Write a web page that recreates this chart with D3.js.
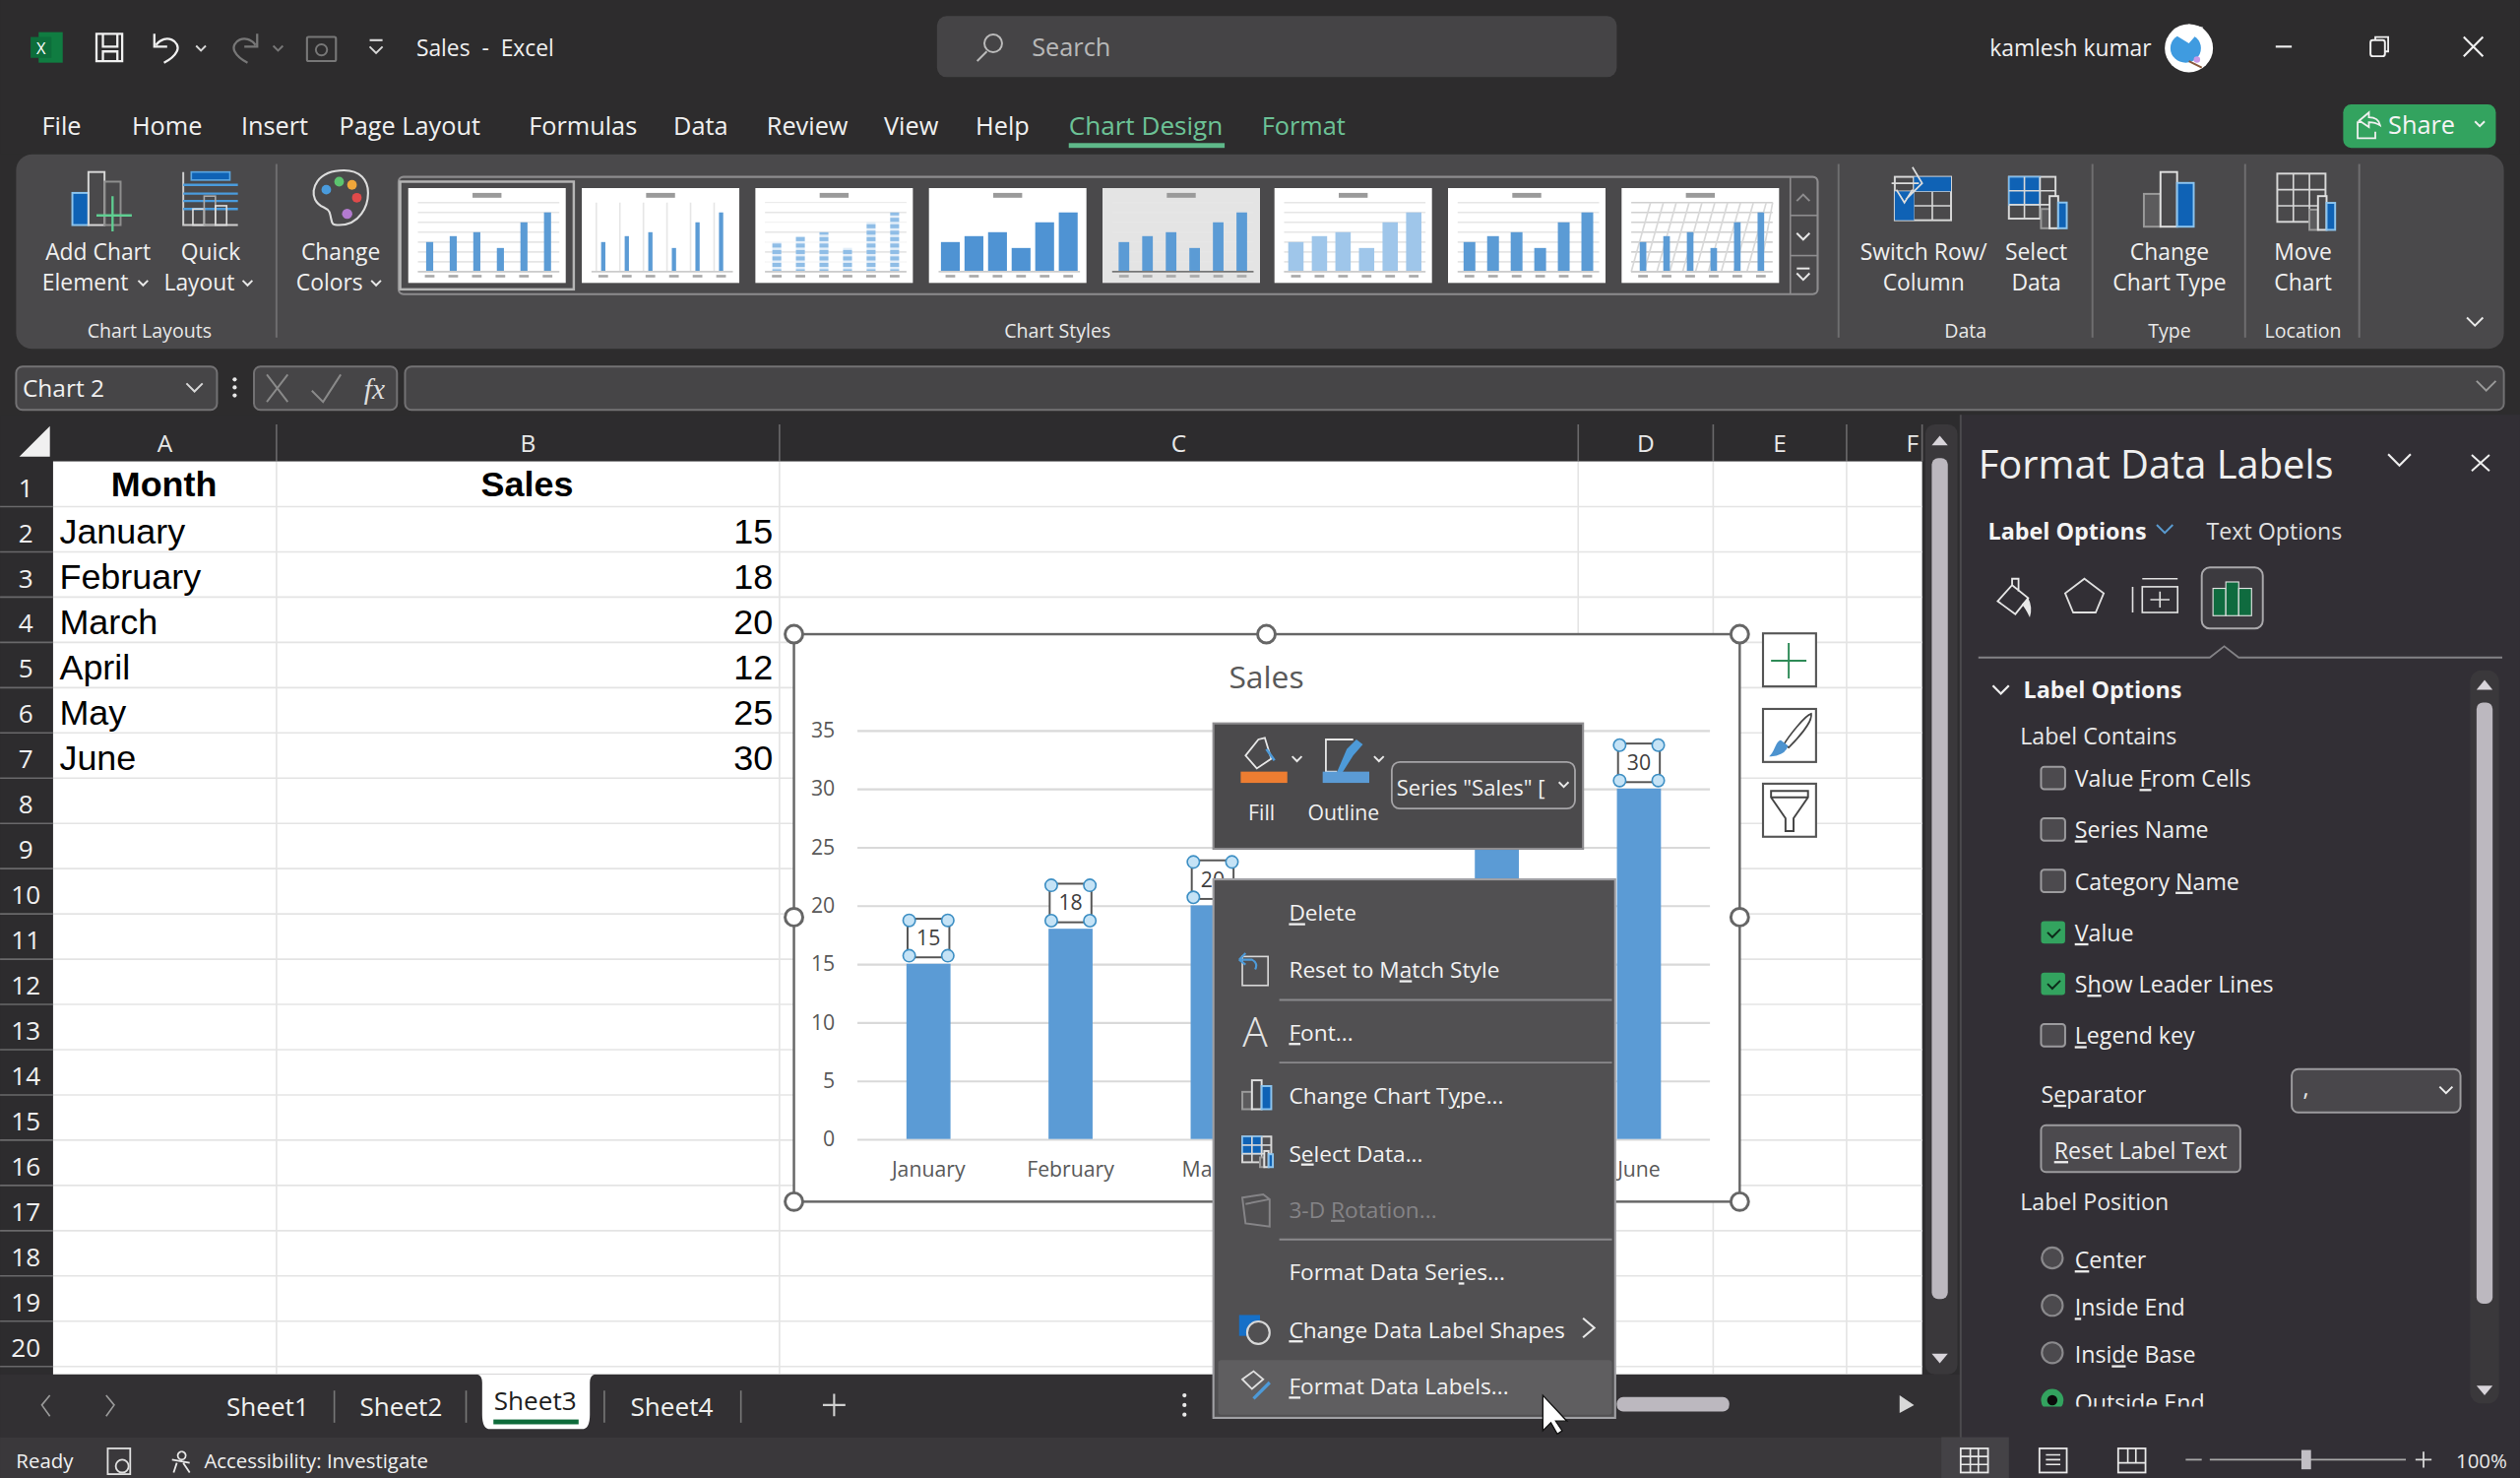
<!DOCTYPE html>
<html lang="en">
	<head>
		<meta charset="utf-8">
		<title>Sales - Excel</title>
		<script type="text/javascript" src="https://d3js.org/d3.v7.min.js"></script>
		<style type="text/css">
			body{
				margin: 0;
				background: #2d2c2d;
			}
			svg{
				display: block;
			}
		</style>
	</head>
	<body>
		<script type="text/javascript">

			//Chart data, read from the sheet
			var months = ["January", "February", "March", "April", "May", "June"];
			var sales = [15, 18, 20, 12, 25, 30];
			var yTicks = [0, 5, 10, 15, 20, 25, 30, 35];

			//Sheet headers
			var columnNames = ["A", "B", "C", "D", "E", "F"];
			var sheetNames = ["Sheet1", "Sheet2", "Sheet3", "Sheet4"];

			//Panel and menu texts, & marks the underlined letter
			var labelContains = ["Value &From Cells", "&Series Name", "Category &Name", "&Value", "S&how Leader Lines", "&Legend key"];
			var labelChecked = [false, false, false, true, true, false];
			var labelPositions = ["&Center", "&Inside End", "Insi&de Base", "&Outside End"];

			var ui = "'Open Sans', sans-serif";

			//Everything is measured on a 1568 wide copy of the screenshot
			var svg = d3.select("body")
						.append("svg")
						.attr("width", 2560)
						.attr("height", 1501)
						.attr("viewBox", "0 0 1568 919.4");

			var root = svg;

			function box(x, y, w, h, fill, stroke, r, sw) {
				return root.append("rect")
					.attr("x", x).attr("y", y)
					.attr("width", w).attr("height", h)
					.attr("rx", r || 0)
					.attr("fill", fill || "none")
					.attr("stroke", stroke || "none")
					.attr("stroke-width", sw || 1);
			}

			function line(x1, y1, x2, y2, color, sw) {
				return root.append("line")
					.attr("x1", x1).attr("y1", y1)
					.attr("x2", x2).attr("y2", y2)
					.attr("stroke", color)
					.attr("stroke-width", sw || 1);
			}

			function path(d, stroke, sw, fill) {
				return root.append("path")
					.attr("d", d)
					.attr("fill", fill || "none")
					.attr("stroke", stroke || "none")
					.attr("stroke-width", sw || 1);
			}

			function dot(x, y, r, fill, stroke, sw) {
				return root.append("circle")
					.attr("cx", x).attr("cy", y).attr("r", r)
					.attr("fill", fill || "none")
					.attr("stroke", stroke || "none")
					.attr("stroke-width", sw || 1);
			}

			function label(str, x, y, size, fill, anchor, weight, family) {
				var t = root.append("text")
					.attr("x", x).attr("y", y)
					.attr("font-size", size)
					.attr("font-family", family || ui)
					.attr("font-weight", weight || 400)
					.attr("fill", fill || "#f0f0f0")
					.attr("text-anchor", anchor || "start");
				//split on & so the access key letter gets its underline
				str.split("&").forEach(function(part, i) {
					if (i == 0) {
						t.append("tspan").text(part);
					} else {
						t.append("tspan").style("text-decoration", "underline").text(part[0]);
						t.append("tspan").text(part.slice(1));
					}
				});
				return t;
			}

			function chev(x, y, s, color, sw) {
				return path("M" + (x - s) + "," + (y - s / 2) + "L" + x + "," + (y + s / 2) + "L" + (x + s) + "," + (y - s / 2), color || "#e8e8e8", sw || 1.2);
			}

			//three bars icon: grey, white outline, blue
			function barsIcon(x, y, w, h) {
				var u = w / 3;
				box(x, y + h * 0.4, u, h * 0.6, "#5c5b5d", "#9a9a9a", 0, 1.2);
				box(x + u, y, u, h, "#4a494b", "#e0e0e0", 0, 1.2);
				box(x + u * 2, y + h * 0.2, u, h * 0.8, "#0f62b5", "#8cc4ee", 0, 1.2);
			}

			function tableIcon(x, y, w, h, cols, rows, blueCols, blueRows) {
				box(x, y, w, h, "none", "#d8d8d8", 0, 1.2);
				box(x, y, w * blueCols / cols, h * blueRows / rows, "#0f62b5", "#7fbcec", 0, 1);
				for (var i = 1; i < cols; i++) line(x + w * i / cols, y, x + w * i / cols, y + h, "#d8d8d8", 1);
				for (var j = 1; j < rows; j++) line(x, y + h * j / rows, x + w, y + h * j / rows, "#d8d8d8", 1);
			}

			/* ---------- title bar ---------- */
			box(0, 0, 1568, 96, "#2d2c2d");
			box(24, 20, 15, 19, "#107c41");
			box(19, 23, 13, 13, "#0d6e3b");
			label("X", 25.5, 33.5, 10, "#ffffff", "middle", 400);
			path("M60,21H76V38H60Z M64,21V29H73V21 M64,38V32H73V38", "#f0f0f0", 1.4);
			path("M96,21V29H104 M97,28C103,20 113,26 110,32C108,36 104,38 102,39", "#f0f0f0", 1.4);
			chev(125, 30, 3, "#d8d8d8");
			path("M160,21V29H152 M159,28C153,20 143,26 146,32C148,36 152,38 154,39", "#777", 1.4);
			chev(173, 30, 3, "#777");
			box(191, 23, 18, 15, "none", "#777", 1, 1.3);
			dot(200, 31, 3.5, "none", "#777", 1.2);
			line(230, 25, 238, 25, "#d8d8d8", 1.3);
			chev(234, 31, 4, "#d8d8d8");
			label("Sales\u00a0\u00a0-\u00a0\u00a0Excel", 259, 35, 14, "#f0f0f0");

			box(583, 10, 423, 38, "#454446", "none", 6);
			dot(618, 27, 5.5, "none", "#bbbbbb", 1.2);
			line(614, 32, 608, 38, "#bbbbbb", 1.2);
			label("Search", 642, 35, 15.5, "#b8b8b8");

			label("kamlesh kumar", 1238, 35, 14, "#f0f0f0");
			dot(1362, 30, 15, "#ffffff");
			root.append("ellipse").attr("cx", 1360).attr("cy", 30).attr("rx", 9.5).attr("ry", 9).attr("fill", "#3f9be0");
			path("M1354,22L1362,27L1369,19L1371,17L1362,15Z", "none", 0, "#ffffff");
			path("M1362,38L1370,42", "#8a5a3c", 1.2);
			dot(1367, 37, 2, "#c99ae8");
			line(1416, 29, 1426, 29, "#f0f0f0", 1.3);
			box(1475, 25, 9, 10, "none", "#f0f0f0", 1.5, 1.2);
			path("M1478,25V23H1486V32H1484", "#f0f0f0", 1.1);
			path("M1533,23L1545,35M1545,23L1533,35", "#f0f0f0", 1.3);

			/* ---------- ribbon tabs ---------- */
			[["File", 26], ["Home", 82], ["Insert", 150], ["Page Layout", 211], ["Formulas", 329], ["Data", 419], ["Review", 477], ["View", 550], ["Help", 607]].forEach(function(d) {
				label(d[0], d[1], 84, 15.5, "#f0f0f0");
			});
			label("Chart Design", 665, 84, 16, "#6cc296");
			box(665, 89, 97, 3, "#5fb98a");
			label("Format", 785, 84, 15.5, "#6cc296");

			box(1458, 65, 95, 27, "#33a35f", "none", 5);
			path("M1468,75L1474,70V73Q1480,73 1481,78Q1478,76 1474,76V79Z M1470,76H1467V86H1478V82", "#f0f0f0", 1.1);
			label("Share", 1486, 83, 15.5, "#f4f4f4");
			chev(1543, 77, 3, "#f0f0f0");

			/* ---------- ribbon ---------- */
			box(10, 96, 1548, 121, "#4a494b", "none", 10);
			[172, 1144, 1302, 1397, 1468].forEach(function(x) {
				line(x, 102, x, 210, "#6f6e70", 1.2);
			});

			//Add Chart Element
			box(45, 120, 10, 20, "#0f62b5", "#8cc4ee", 0, 1.2);
			box(55, 107, 10, 33, "none", "#d8d8d8", 0, 1.2);
			box(65, 113, 10, 27, "none", "#8f8f8f", 0, 1.2);
			path("M70,122V144M60,134H82", "#5fcf92", 1.4);
			label("Add Chart", 61, 162, 14, "#f0f0f0", "middle");
			label("Element", 53, 181, 14, "#f0f0f0", "middle");
			chev(89, 176, 3);

			//Quick Layout
			path("M114,107V140H148", "#cfcfcf", 1.2);
			box(119, 107, 24, 5, "#0f62b5", "#5aa5e0");
			[115, 120.5, 125, 130].forEach(function(y) {
				line(114, y, 148, y, "#4a9bdc", 1.4);
			});
			box(120, 130, 7, 10, "none", "#dddddd");
			box(127, 122, 7, 18, "none", "#aaaaaa");
			box(134, 128, 7, 12, "none", "#dddddd");
			label("Quick", 131, 162, 14, "#f0f0f0", "middle");
			label("Layout", 124, 181, 14, "#f0f0f0", "middle");
			chev(154, 176, 3);

			//Change Colors
			path("M214,106C197,106 193,118 196,124C199,130 203,128 205,132C207,138 205,140 211,140C224,140 229,128 229,120C229,112 224,106 214,106Z", "#dcdcdc", 1.3);
			dot(203, 118, 3, "#4a9bdc");
			dot(211, 113, 3, "#5cc46f");
			dot(219, 115, 3, "#efa63a");
			dot(222, 123, 3, "#e04a4a");
			dot(216, 133, 3.2, "#b47bd0");
			label("Change", 212, 162, 14, "#f0f0f0", "middle");
			label("Colors", 205, 181, 14, "#f0f0f0", "middle");
			chev(234, 176, 3);

			/* chart style gallery, every thumbnail is the same sales data */
			box(248, 110, 883, 73, "none", "#8d8c8e", 3, 1.3);
			box(249, 113, 108, 67, "none", "#b5b5b5", 0, 1.5);
			var thumbX = [254, 362, 470, 578, 686, 793, 901, 1009];
			var thumbBand = [0.7, 0.82, 0.62, 0.2, 0.55, 0.35, 0.5, 0.72];
			var thumbFill = ["#5b9bd5", "#5b9bd5", "#8fbde6", "#4f93d3", "#5b9bd5", "#9fc6ea", "#5b9bd5", "#5b9bd5"];
			thumbX.forEach(function(tx, t) {
				var tb = root.append("g").attr("transform", "translate(" + tx + ",117)");
				tb.append("rect").attr("width", 98).attr("height", 59).attr("fill", t == 4 ? "#e4e4e4" : "#ffffff");
				var tScaleX = d3.scaleBand().domain(months).range([6, 94]).paddingInner(thumbBand[t]).paddingOuter(thumbBand[t] / 2);
				var tScaleY = d3.scaleLinear().domain([0, 35]).range([52, 9]);
				if (t == 1) {
					//vertical grid only
					tb.selectAll(".tvgrid").data(months).enter().append("line")
						.attr("class", "tvgrid")
						.attr("x1", function(d) { return tScaleX(d) - 3; })
						.attr("x2", function(d) { return tScaleX(d) - 3; })
						.attr("y1", 9).attr("y2", 52)
						.attr("stroke", "#e6e6e6");
				} else if (t != 3) {
					tb.selectAll(".tgrid").data(yTicks).enter().append("line")
						.attr("class", "tgrid")
						.attr("x1", 6).attr("x2", 94)
						.attr("y1", function(d) { return tScaleY(d); })
						.attr("y2", function(d) { return tScaleY(d); })
						.attr("stroke", t == 7 ? "#d0d0d0" : "#e6e6e6");
				}
				if (t == 7) {
					//hatched background
					tb.selectAll(".thatch").data(d3.range(6, 94, 8)).enter().append("line")
						.attr("class", "thatch")
						.attr("x1", function(d) { return d; })
						.attr("x2", function(d) { return Math.min(d + 12, 94); })
						.attr("y1", 52)
						.attr("y2", 9)
						.attr("stroke", "#d8d8d8");
				}
				tb.selectAll(".tbar").data(sales).enter().append("rect")
					.attr("class", "tbar")
					.attr("x", function(d, i) { return tScaleX(months[i]); })
					.attr("y", function(d) { return tScaleY(d); })
					.attr("width", tScaleX.bandwidth())
					.attr("height", function(d) { return tScaleY(0) - tScaleY(d); })
					.attr("fill", thumbFill[t]);
				if (t == 2) {
					//striped bars
					tb.selectAll(".tstripe").data(d3.range(0, 44, 4)).enter().append("rect")
						.attr("class", "tstripe")
						.attr("x", 6).attr("width", 88)
						.attr("y", function(d) { return 9 + d; })
						.attr("height", 1.5)
						.attr("fill", "#ffffff").attr("opacity", 0.75);
				}
				tb.append("rect").attr("x", 40).attr("y", 3).attr("width", 18).attr("height", 3).attr("fill", "#9a9a9a");
				tb.append("line").attr("x1", 6).attr("x2", 94).attr("y1", 52).attr("y2", 52).attr("stroke", t == 4 ? "#777" : "#cccccc");
				tb.selectAll(".tcat").data(months).enter().append("rect")
					.attr("class", "tcat")
					.attr("x", function(d) { return tScaleX(d) + tScaleX.bandwidth() / 2 - 3; })
					.attr("y", 54).attr("width", 6).attr("height", 1.6)
					.attr("fill", "#a8a8a8");
			});
			line(1114, 110, 1114, 183, "#8d8c8e", 1);
			line(1114, 134, 1131, 134, "#8d8c8e", 1);
			line(1114, 159, 1131, 159, "#8d8c8e", 1);
			chev(1122, 123, -4, "#8d8c8e");
			chev(1122, 147, 4, "#e8e8e8");
			line(1118, 167, 1126, 167, "#e8e8e8", 1.2);
			chev(1122, 172, 4, "#e8e8e8");

			//Data, Type, Location groups
			tableIcon(1179, 110, 35, 27, 3, 3, 0, 0);
			box(1179, 119, 12, 18, "#0f62b5");
			box(1191, 110, 23, 9, "#0f62b5");
			path("M1190,104L1196,114L1186,124M1177,114H1194M1180,118L1185,126L1190,118", "#dddddd", 1.1);
			tableIcon(1250, 110, 29, 26, 3, 3, 2, 2);
			barsIcon(1270, 122, 16, 20);
			barsIcon(1334, 107, 31, 34);
			tableIcon(1417, 108, 30, 30, 3, 3, 0, 0);
			barsIcon(1437, 122, 16, 21);

			label("Switch Row/", 1197, 162, 14, "#f0f0f0", "middle");
			label("Column", 1197, 181, 14, "#f0f0f0", "middle");
			label("Select", 1267, 162, 14, "#f0f0f0", "middle");
			label("Data", 1267, 181, 14, "#f0f0f0", "middle");
			label("Change", 1350, 162, 14, "#f0f0f0", "middle");
			label("Chart Type", 1350, 181, 14, "#f0f0f0", "middle");
			label("Move", 1433, 162, 14, "#f0f0f0", "middle");
			label("Chart", 1433, 181, 14, "#f0f0f0", "middle");

			label("Chart Layouts", 93, 210, 12, "#e8e8e8", "middle");
			label("Chart Styles", 658, 210, 12, "#e8e8e8", "middle");
			label("Data", 1223, 210, 12, "#e8e8e8", "middle");
			label("Type", 1350, 210, 12, "#e8e8e8", "middle");
			label("Location", 1433, 210, 12, "#e8e8e8", "middle");
			chev(1540, 200, 5, "#e8e8e8");

			/* ---------- formula bar ---------- */
			box(10, 228, 125, 27, "#464547", "#737274", 4, 1.2);
			label("Chart 2", 14, 247, 15, "#f0f0f0");
			chev(121, 241, 5, "#d8d8d8");
			[236, 241, 246].forEach(function(y) { dot(146, y, 1.3, "#e8e8e8"); });
			box(158, 228, 89, 27, "#464547", "#737274", 4, 1.2);
			path("M166,233L179,250M179,233L166,250", "#8a8a8a", 1.2);
			path("M194,243L201,250L212,233", "#8a8a8a", 1.2);
			label("fx", 233, 248, 18, "#dddddd", "middle", 400, "'Liberation Serif', serif").attr("font-style", "italic");
			box(252, 228, 1306, 27, "#464547", "#737274", 4, 1.2);
			chev(1547, 240, 6, "#9a9a9a");

			/* ---------- sheet ---------- */
			var colEdges = [33, 172, 485, 982, 1066, 1149, 1196];
			var rowH = 28.15;
			var rowTop = 287;

			box(0, 258, 1220, 600, "#2d2c2e");
			box(33, 287, 1163, 568, "#ffffff");

			//grid
			d3.range(1, 21).forEach(function(i) {
				line(33, rowTop + i * rowH, 1196, rowTop + i * rowH, "#e4e4e4", 1);
			});
			colEdges.slice(1, 6).forEach(function(x) {
				line(x, 287, x, 855, "#e4e4e4", 1);
			});

			//headers
			path("M12,284H31V265Z", "none", 0, "#f0f0f0");
			columnNames.forEach(function(c, i) {
				//F is cut by the window, its label sits far right
				var cx = c == "F" ? 1190 : (colEdges[i] + colEdges[i + 1]) / 2;
				label(c, cx, 281, 15, "#e8e8e8", "middle");
				line(colEdges[i + 1], 264, colEdges[i + 1], 287, "#69686a", 1);
			});
			d3.range(1, 21).forEach(function(n) {
				label(String(n), 16, rowTop + (n - 0.5) * rowH + 8, 16, "#f0f0f0", "middle");
				line(0, rowTop + n * rowH, 33, rowTop + n * rowH, "#69686a", 1);
			});

			//cells, Arial in the sheet
			var cellFont = "'Liberation Sans', Arial, sans-serif";
			label("Month", 102, rowTop + 22, 22, "#000000", "middle", 700, cellFont);
			label("Sales", 328, rowTop + 22, 22, "#000000", "middle", 700, cellFont);
			months.forEach(function(m, i) {
				label(m, 37, rowTop + (i + 1) * rowH + 23, 22, "#000000", "start", 400, cellFont);
				label(String(sales[i]), 481, rowTop + (i + 1) * rowH + 23, 22, "#000000", "end", 400, cellFont);
			});

			//sheet tab bar goes under the context menu
			box(0, 855, 1220, 39, "#323033");

			/* ---------- the chart ---------- */
			box(494, 394.5, 588.5, 353, "#ffffff", "#666666", 0, 1.5);
			label("Sales", 788, 428, 19.5, "#595959", "middle");

			var plotLeft = 533.5, plotRight = 1064, plotTop = 454.2, plotBottom = 708.5;

			var xScale = d3.scaleBand()
						.domain(months)
						.range([plotLeft, plotRight])
						.paddingInner(0.69)
						.paddingOuter(0.345);

			var yScale = d3.scaleLinear()
						.domain([0, 35])
						.range([plotBottom, plotTop]);

			var yAxis = svg.append("g")
						.attr("class", "y-axis")
						.attr("transform", "translate(" + plotLeft + ",0)")
						.call(d3.axisLeft(yScale).tickValues(yTicks).tickSize(-(plotRight - plotLeft)).tickPadding(14));
			yAxis.select(".domain").remove();
			yAxis.selectAll("line").attr("stroke", "#d9d9d9").attr("stroke-width", 1.3);
			yAxis.selectAll("text").attr("fill", "#595959").attr("font-size", 13).attr("font-family", ui);

			svg.selectAll(".bar")
				.data(sales)
				.enter()
				.append("rect")
				.attr("class", "bar")
				.attr("x", function(d, i) { return xScale(months[i]); })
				.attr("y", function(d) { return yScale(d); })
				.attr("width", xScale.bandwidth())
				.attr("height", function(d) { return yScale(0) - yScale(d); })
				.attr("fill", "#5b9bd5");

			var xAxis = svg.append("g")
						.attr("class", "x-axis")
						.attr("transform", "translate(0," + plotBottom + ")")
						.call(d3.axisBottom(xScale).tickSize(0).tickPadding(14));
			xAxis.select(".domain").remove();
			xAxis.selectAll("text").attr("fill", "#595959").attr("font-size", 13).attr("font-family", ui);
			//the menu hides April and May here, so no text for them
			xAxis.selectAll(".tick").filter(function(d) { return d == "April" || d == "May"; }).select("text").remove();

			//selected data labels with their handles
			var labelGroups = svg.selectAll(".data-label")
				.data(sales)
				.enter()
				.append("g")
				.attr("class", "data-label")
				.attr("transform", function(d, i) {
					return "translate(" + (xScale(months[i]) + xScale.bandwidth() / 2) + "," + yScale(d) + ")";
				});

			labelGroups.append("rect")
				.attr("x", -13).attr("y", -28)
				.attr("width", 26).attr("height", 24)
				.attr("fill", "#ffffff")
				.attr("stroke", "#555555")
				.attr("stroke-width", 1.2);

			//April and May labels sit behind the menu and the toolbar
			labelGroups.filter(function(d, i) { return months[i] != "April" && months[i] != "May"; })
				.append("text")
				.attr("y", -11.5)
				.attr("text-anchor", "middle")
				.attr("font-size", 13)
				.attr("font-family", ui)
				.attr("fill", "#404040")
				.text(function(d) { return d; });

			[[-12, -27], [12, -27], [-12, -5], [12, -5]].forEach(function(h) {
				labelGroups.append("circle")
					.attr("cx", h[0]).attr("cy", h[1]).attr("r", 3.8)
					.attr("fill", "#c5e3f6")
					.attr("stroke", "#3d8fc4")
					.attr("stroke-width", 1);
			});

			//chart area handles
			[[494, 394.5], [788, 394.5], [1082.5, 394.5], [494, 570.5], [1082.5, 570.5], [494, 747.5], [788, 747.5], [1082.5, 747.5]].forEach(function(h) {
				dot(h[0], h[1], 5.5, "#ffffff", "#666666", 1.8);
			});

			//chart side buttons
			box(1097, 394, 33, 33, "#ffffff", "#555555", 0, 1.3);
			path("M1113,400V422M1102,411H1124", "#2e8b57", 1.2);
			box(1097, 441, 33, 33, "#ffffff", "#555555", 0, 1.3);
			path("M1127,444C1123,445 1113,458 1110,463L1113,465C1118,460 1128,449 1127,444Z", "#444", 1, "none");
			path("M1102,470C1106,470 1111,468 1112,464L1108,461C1105,462 1105,467 1102,470Z", "#4d93cf", 1, "#4d93cf");
			box(1097, 487.5, 33, 33, "#ffffff", "#555555", 0, 1.3);
			path("M1102,492H1125V496L1116,509V517H1111V509L1102,496Z M1102,496H1125", "#444", 1.2);

			/* ---------- data label toolbar ---------- */
			box(755, 450, 230, 78, "#4b4a4c", "#8e8d90", 0, 1.3);
			path("M775,470L783,460L787,459L791,472L782,478Z", "#e8e8e8", 1.1);
			path("M788,466L793,473", "#4d9ad8", 1.6);
			box(772, 480, 29, 7, "#ed7d31");
			chev(807, 472, 3);
			path("M842,460H825V480H832", "#e8e8e8", 1.1);
			path("M832,480L838,466L844,460L848,463L842,470L835,481Z", "none", 0, "#4d9ad8");
			box(823, 480, 29, 7, "#5b9bd5");
			chev(858, 472, 3);
			label("Fill", 785, 510, 13, "#f0f0f0", "middle");
			label("Outline", 836, 510, 13, "#f0f0f0", "middle");
			box(866, 474, 114, 29, "#4b4a4c", "#a5a4a7", 5, 1.1);
			label("Series \"Sales\" [", 869, 495, 13.5, "#f0f0f0");
			chev(973, 488, 3);

			/* ---------- context menu ---------- */
			box(755, 547, 250, 335, "#515052", "#a0a0a4", 0, 1.3);
			box(758, 846, 245, 34, "#5f5e60", "none", 2);
			[["&Delete", 573], ["Reset to M&atch Style", 608.5], ["&Font...", 647.5], ["Change Chart T&ype...", 686.5], ["S&elect Data...", 722.5], ["Format Data Ser&ies...", 796.5], ["&Change Data Label Shapes", 832.5], ["&Format Data Labels...", 867.5]].forEach(function(d) {
				label(d[0], 802, d[1], 13.9, "#f2f2f2");
			});
			label("3-D &Rotation...", 802, 757.5, 13.9, "#858487");
			[622, 661, 771].forEach(function(y) { line(796, y, 1003, y, "#8a898c", 1.2); });

			//menu icons
			box(773, 595, 16, 18, "none", "#d8d8d8", 0, 1);
			path("M771,597L775,593M771,597L775,600M771,597H779Q783,599 781,603", "#4d9ad8", 1.3);
			label("A", 781, 651, 26, "#e4e4e4", "middle", 300);
			barsIcon(773, 672, 18, 18);
			tableIcon(773, 707, 18, 16, 3, 3, 2, 2);
			barsIcon(784, 716, 8, 10);
			path("M773,745L786,743L790,746V763L775,761Z M775,749L790,746", "#858487", 1.2);
			box(771, 818, 13, 13, "#1670c8");
			dot(783, 829, 7, "#515052", "#d8d8d8", 1.3);
			path("M773,858L780,853L786,858L779,864Z", "#e0e0e0", 1.1);
			path("M780,870L790,860", "#4d9ad8", 2);
			path("M985,820L992,826L985,832", "#e8e8e8", 1.3);

			//mouse pointer
			path("M960,868V890L965,885L969,892L972,890L968,884H975Z", "#111111", 0.8, "#ffffff");

			/* ---------- sheet tabs ---------- */
			path("M31,868L26,874L31,881", "#9a9a9a", 1);
			path("M66,868L71,874L66,881", "#9a9a9a", 1);
			path("M297,855Q300,856 300,860V880Q300,889 305,889H362Q367,889 367,880V860Q367,856 370,855Z", "none", 0, "#ffffff");
			sheetNames.forEach(function(s, i) {
				var cx = [166.5, 249.5, 333, 418][i];
				var active = (s == "Sheet3");
				label(s, cx, active ? 877 : 881, 16, active ? "#1f1f1f" : "#f0f0f0", "middle", active ? 500 : 400);
			});
			box(307, 883, 53, 3, "#0e6b3a");
			[208, 290, 376, 461].forEach(function(x) { line(x, 865, x, 885, "#777", 1); });
			path("M519,867V881M512,874H526", "#cfcfcf", 1.3);
			[868, 874, 880].forEach(function(y) { dot(737, y, 1.3, "#e8e8e8"); });
			box(1006, 869, 70, 9, "#bcb8bf", "none", 4);
			path("M1182,868L1191,874L1182,879Z", "none", 0, "#d8d8d8");

			/* ---------- status bar ---------- */
			box(0, 894, 1220, 26, "#3a383b");
			label("Ready", 10, 913, 12.5, "#f0f0f0");
			box(67, 901, 14, 16, "none", "#e0e0e0", 0, 1.1);
			dot(76, 912, 4, "#3a383b", "#e0e0e0", 1.1);
			path("M113,903A2.5,2.5 0 1,0 113.1,903M107,908L118,910M110,910L108,916M114,910L118,916", "#e8e8e8", 1.1);
			label("Accessibility: Investigate", 127, 913, 12.5, "#f0f0f0");

			/* ---------- format data labels panel ---------- */
			box(1220, 258, 348, 662, "#322f35");
			box(1198, 264, 20, 591, "#3a383b", "none", 6);
			path("M1202,277L1207,271L1212,277Z", "none", 0, "#d8d4da");
			box(1202, 285, 10, 523, "#bcb8bf", "none", 4);
			path("M1202,842L1207,848L1212,842Z", "none", 0, "#d8d4da");
			line(1220, 258, 1220, 895, "#4c4a4e", 1.2);

			label("Format Data Labels", 1231, 297.5, 24.4, "#efefef");
			chev(1493, 286, 7, "#efefef", 1.3);
			path("M1538,283L1549,293M1549,283L1538,293", "#efefef", 1.2);
			label("Label Options", 1237, 335.5, 14.3, "#f4f4f4", "start", 700);
			chev(1347, 329, 5, "#5a9bd0", 1.2);
			label("Text Options", 1373, 335.5, 14.2, "#e0e0e0");

			//panel icons
			path("M1243,374L1252,364L1262,372L1254,382Z M1252,364V360H1256V368", "#e8e8e8", 1.1);
			path("M1262,372Q1265,378 1263,384Q1260,378 1258,376Z", "none", 0, "#e8e8e8");
			path("M1297,360L1309,369L1304,381H1290L1285,369Z", "#e0e0e0", 1.1);
			box(1333, 365, 22, 16, "none", "#e0e0e0", 0, 1);
			path("M1338,373H1350M1344,368V378M1333,360H1355M1327,365V381", "#e0e0e0", 1);
			box(1370, 353, 38, 38, "#3c3a3f", "#a9a8ab", 5, 1.2);
			box(1377, 366, 8, 17, "#0f6b3f", "#e0e0e0", 0, 0.7);
			box(1385, 362, 8, 21, "#0f6b3f", "#e0e0e0", 0, 0.7);
			box(1393, 366, 8, 17, "#0f6b3f", "#e0e0e0", 0, 0.7);
			path("M1231,409H1375L1384,402L1393,409H1557", "#838286", 1.1);

			chev(1245, 429, 5, "#efefef", 1.4);
			label("Label Options", 1259, 434.5, 14.3, "#f4f4f4", "start", 700);
			label("Label Contains", 1257, 463, 14.2, "#e8e8e8");

			var checkY = d3.scaleLinear().domain([0, 5]).range([484, 644]);
			labelContains.forEach(function(t, i) {
				var cy = checkY(i);
				if (labelChecked[i]) {
					box(1270, cy - 7, 15, 14, "#33a35f", "none", 2);
					path("M1274,"  + cy + "L1277," + (cy + 3) + "L1282," + (cy - 2), "#0d2a1a", 1.2);
				} else {
					box(1270, cy - 7, 15, 14, "#4c4a4e", "#9c9b9e", 2, 1.2);
				}
				label(t, 1291, cy + 5.5, 14.2, "#eeeeee");
			});

			label("S&eparator", 1270, 686, 14.2, "#e8e8e8");
			box(1426, 665, 105, 27, "#49474b", "#9c9b9e", 4, 1.2);
			label(",", 1433, 682, 14.5, "#e8e8e8");
			chev(1522, 678, 4, "#eeeeee", 1.2);
			box(1270, 700, 124, 29, "#4c4a4e", "#9c9b9e", 3, 1.2);
			label("&Reset Label Text", 1332, 721, 14.2, "#eeeeee", "middle");
			label("Label Position", 1257, 753, 14.2, "#e8e8e8");

			//last option is cut by the panel edge
			svg.append("clipPath").attr("id", "panelClip")
				.append("rect").attr("x", 1220).attr("y", 420).attr("width", 348).attr("height", 455);
			var outerRoot = root;
			root = svg.append("g").attr("clip-path", "url(#panelClip)");
			var radioY = d3.scaleLinear().domain([0, 3]).range([782.5, 871]);
			labelPositions.forEach(function(t, i) {
				var ry = radioY(i);
				if (i == 3) {
					dot(1277, ry, 7, "#33a35f");
					dot(1277, ry, 3.2, "#0b0b0b");
				} else {
					dot(1277, ry, 6.5, "#4c4a4e", "#8a898c", 1.3);
				}
				label(t, 1291, ry + 6.5, 14.2, "#eeeeee");
			});
			root = outerRoot;

			box(1537, 417, 18, 456, "#3a383b", "none", 7);
			path("M1541,429L1546,423L1551,429Z", "none", 0, "#d8d4da");
			box(1541, 437, 10, 374, "#bcb8bf", "none", 4);
			path("M1541,862L1546,868L1551,862Z", "none", 0, "#d8d4da");

			//view buttons and zoom
			box(1208, 894, 42, 26, "#444246");
			box(1220, 901, 17, 15, "none", "#e8e8e8", 0, 1.1);
			path("M1220,906H1237M1220,911H1237M1226,901V916M1231,901V916", "#e8e8e8", 1);
			box(1269, 901, 17, 15, "none", "#e8e8e8", 0, 1.1);
			path("M1273,905H1282M1273,908H1282M1273,911H1282", "#e8e8e8", 1);
			box(1318, 901, 17, 15, "none", "#e8e8e8", 0, 1.1);
			path("M1318,910H1335M1324,901V910M1329,901V910", "#e8e8e8", 1);
			line(1360, 908, 1370, 908, "#a8a8a8", 1.1);
			line(1375, 908, 1497, 908, "#a8a8a8", 1.1);
			box(1432, 902, 6, 12, "#c2bfc5");
			path("M1508,903V913M1503,908H1513", "#d8d8d8", 1.1);
			label("100%", 1560, 913, 12.5, "#e8e8e8", "end");

		</script>
	</body>
</html>
